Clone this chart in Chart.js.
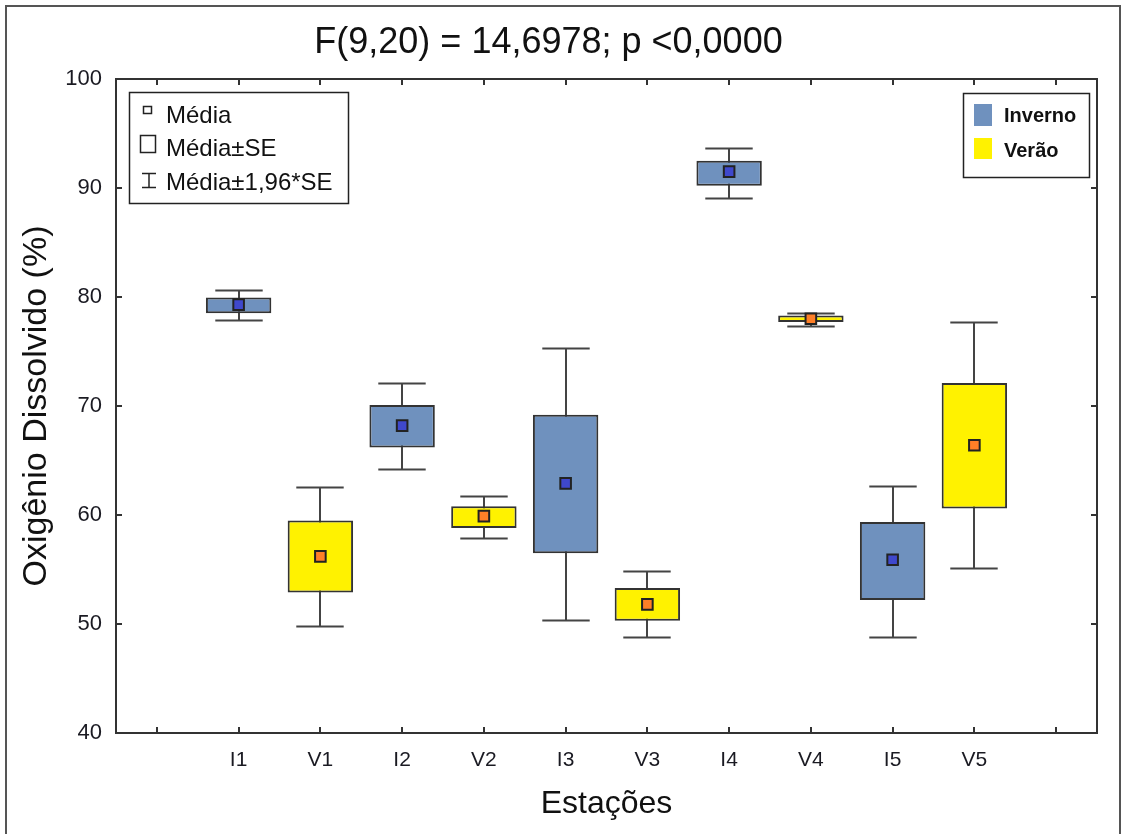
<!DOCTYPE html>
<html>
<head>
<meta charset="utf-8">
<title>Oxigênio Dissolvido</title>
<script src="https://cdn.jsdelivr.net/npm/chart.js@4.4.1/dist/chart.umd.min.js"></script>
<style>
  html, body { margin: 0; padding: 0; background: #fff; }
  #wrap { width: 1126px; height: 834px; }
</style>
</head>
<body>
<div id="wrap"><canvas id="myChart" width="1126" height="834"></canvas></div>
<script>
// estações (I = inverno, V = verão)
var stations = ["I1", "V1", "I2", "V2", "I3", "V3", "I4", "V4", "I5", "V5"];
var seasons  = ["Inverno", "Verão", "Inverno", "Verão", "Inverno", "Verão", "Inverno", "Verão", "Inverno", "Verão"];

// média, média±SE (caixa), média±1,96*SE (bigodes)
var means  = [79.3, 56.2, 68.2, 59.9, 62.9, 51.8, 91.5, 78.0, 55.9, 66.4];
var seLow  = [78.5, 52.9, 66.2, 58.8, 56.5, 50.3, 90.2, 77.7, 52.2, 60.6];
var seHigh = [79.95, 59.5, 70.1, 60.8, 69.2, 53.3, 92.5, 78.3, 59.35, 72.1];
var ciLow  = [77.85, 49.8, 64.2, 57.85, 50.4, 48.85, 89.05, 77.3, 48.8, 55.1];
var ciHigh = [80.65, 62.55, 72.1, 61.75, 75.3, 54.9, 93.7, 78.55, 62.7, 77.7];

var yTicks = [40, 50, 60, 70, 80, 90, 100];

var colors = {
  "Inverno": { fill: "#6f91be", mean: "#3f48cc" },
  "Verão":   { fill: "#fff200", mean: "#ff7f27" }
};

var FONT = "'Liberation Sans', Arial, sans-serif";
Chart.defaults.font.family = FONT;
Chart.defaults.color = "#1a1a22";

// empty slot at each end of the axis, like the original
var labels = [""].concat(stations, [""]);

function boxData(season) {
  return [null].concat(stations.map(function (s, i) {
    return seasons[i] === season ? [seLow[i], seHigh[i]] : null;
  }), [null]);
}
function meanData(season) {
  return [null].concat(stations.map(function (s, i) {
    return seasons[i] === season ? means[i] : null;
  }), [null]);
}

function boxSet(season) {
  return {
    type: "bar", label: season, data: boxData(season),
    backgroundColor: colors[season].fill, borderColor: "#333", borderWidth: 2,
    borderSkipped: false, grouped: false, barPercentage: 0.8, categoryPercentage: 1,
    order: 2
  };
}
function meanSet(season) {
  return {
    type: "line", label: "Média " + season, data: meanData(season),
    showLine: false, pointStyle: "rect", pointRadius: 7.5, pointHoverRadius: 7.5,
    pointBackgroundColor: colors[season].mean, pointBorderColor: "#222", pointBorderWidth: 2,
    order: 1
  };
}

// Média±1,96*SE bigodes, drawn behind the boxes
var whiskers = {
  id: "whiskers",
  beforeDatasetsDraw: function (chart) {
    var ctx = chart.ctx, x = chart.scales.x, y = chart.scales.y;
    var cap = x.width / labels.length * 0.58 / 2;
    ctx.save();
    ctx.strokeStyle = "#444";
    ctx.lineWidth = 2;
    stations.forEach(function (s, i) {
      var px = Math.round(x.getPixelForValue(i + 1));
      var top = Math.round(y.getPixelForValue(ciHigh[i])) + 0.5;
      var bot = Math.round(y.getPixelForValue(ciLow[i])) + 0.5;
      ctx.beginPath();
      ctx.moveTo(px, top); ctx.lineTo(px, bot);
      ctx.moveTo(px - cap, top); ctx.lineTo(px + cap, top);
      ctx.moveTo(px - cap, bot); ctx.lineTo(px + cap, bot);
      ctx.stroke();
    });
    ctx.restore();
  }
};

// frame, inward ticks and the two legend boxes
var decor = {
  id: "decor",
  afterDraw: function (chart) {
    var ctx = chart.ctx, a = chart.chartArea, x = chart.scales.x, y = chart.scales.y;
    var t = 6;
    ctx.save();
    ctx.strokeStyle = "#333";
    ctx.lineWidth = 2;
    ctx.strokeRect(a.left, a.top, a.right - a.left, a.bottom - a.top);

    ctx.beginPath();
    labels.forEach(function (l, i) {
      var px = Math.round(x.getPixelForValue(i));
      ctx.moveTo(px, a.bottom); ctx.lineTo(px, a.bottom - t);
      ctx.moveTo(px, a.top); ctx.lineTo(px, a.top + t);
    });
    yTicks.forEach(function (v) {
      var py = Math.round(y.getPixelForValue(v));
      ctx.moveTo(a.left, py); ctx.lineTo(a.left + t, py);
      ctx.moveTo(a.right, py); ctx.lineTo(a.right - t, py);
    });
    ctx.stroke();

    // outer frame of the figure
    ctx.strokeStyle = "#555";
    ctx.beginPath();
    ctx.moveTo(6, 840); ctx.lineTo(6, 6); ctx.lineTo(1120, 6); ctx.lineTo(1120, 840);
    ctx.stroke();

    // legenda: estatísticas
    ctx.lineWidth = 1.5;
    ctx.strokeStyle = "#222";
    ctx.fillStyle = "#fff";
    ctx.fillRect(129, 92, 219, 111);
    ctx.strokeRect(129.5, 92.5, 219, 111);
    ctx.strokeRect(143.5, 106.5, 8, 7);
    ctx.strokeRect(140.5, 135.5, 15, 17);
    ctx.beginPath();
    ctx.moveTo(142, 173.5); ctx.lineTo(156, 173.5);
    ctx.moveTo(149, 173.5); ctx.lineTo(149, 187.5);
    ctx.moveTo(142, 187.5); ctx.lineTo(156, 187.5);
    ctx.stroke();
    ctx.fillStyle = "#111";
    ctx.font = "24px " + FONT;
    ctx.textBaseline = "middle";
    ctx.textAlign = "left";
    ctx.fillText("Média", 166, 116);
    ctx.fillText("Média±SE", 166, 149);
    ctx.fillText("Média±1,96*SE", 166, 183);

    // legenda: estações do ano
    ctx.fillStyle = "#fff";
    ctx.fillRect(963, 93, 126, 84);
    ctx.strokeRect(963.5, 93.5, 126, 84);
    ctx.fillStyle = colors["Inverno"].fill;
    ctx.fillRect(974, 104, 18, 22);
    ctx.fillStyle = colors["Verão"].fill;
    ctx.fillRect(974, 138, 18, 21);
    ctx.fillStyle = "#111";
    ctx.font = "bold 20px " + FONT;
    ctx.fillText("Inverno", 1004, 116);
    ctx.fillText("Verão", 1004, 151);
    ctx.restore();
  }
};

var ctx = document.getElementById("myChart").getContext("2d");
var chart = new Chart(ctx, {
  type: "bar",
  data: {
    labels: labels,
    datasets: [boxSet("Inverno"), boxSet("Verão"), meanSet("Inverno"), meanSet("Verão")]
  },
  options: {
    responsive: false,
    animation: false,
    layout: { padding: { left: 0, right: 29, top: 0, bottom: 0 } },
    plugins: {
      legend: { display: false },
      tooltip: { enabled: false },
      title: {
        display: true,
        text: "F(9,20) = 14,6978; p <0,0000",
        color: "#111",
        font: { size: 36, weight: "normal" },
        padding: { top: 21, bottom: 14.8 }
      }
    },
    scales: {
      x: {
        offset: true,
        grid: { display: false },
        border: { display: false },
        ticks: { font: { size: 21 }, padding: 7, maxRotation: 0, autoSkip: false },
        title: { display: true, text: "Estações", color: "#111", font: { size: 32 }, padding: { bottom: 11 } },
        afterFit: function (s) { s.height = 101; }
      },
      y: {
        min: 40, max: 100,
        grid: { display: false },
        border: { display: false },
        ticks: { stepSize: 10, font: { size: 22 }, padding: 6 },
        title: { display: true, text: "Oxigênio Dissolvido (%)", color: "#111", font: { size: 34 }, padding: { top: 16 } },
        afterFit: function (s) { s.width = 116; }
      }
    }
  },
  plugins: [whiskers, decor]
});
</script>
</body>
</html>
